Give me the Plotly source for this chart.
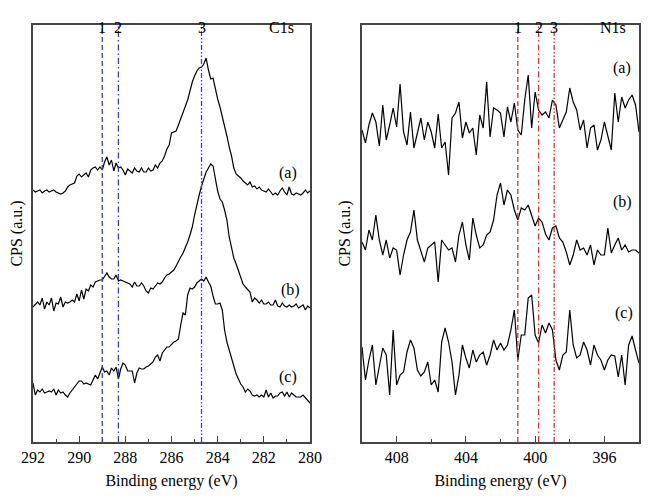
import numpy as np
import plotly.graph_objects as go

# ---------------- C1s data (binding energy 292 -> 280 eV, step 0.1) ----------------
c1s_energy = np.round(np.linspace(292.0, 280.0, 121), 2)
c1s_a = [252,250,251,252,249,251,252,250,251,252,
         250,249,248,249,251,255,257,258,259,266,
         268,265,267,269,265,272,274,275,272,275,
         272,280,285,277,282,271,279,274,275,272,
         267,273,271,269,274,271,270,274,270,270,
         274,271,272,277,274,279,281,286,293,297,
         309,310,311,317,323,329,335,342,351,360,
         366,371,374,375,378,384,372,363,364,352,
         343,335,326,315,306,295,286,274,268,266,
         264,261,259,257,260,255,256,253,255,252,
         251,250,253,250,247,249,247,251,254,250,
         247,255,248,247,249,248,247,249,252,249,251]
c1s_b = [135,138,140,137,144,133,140,137,144,131,
         139,138,145,135,140,139,140,142,140,148,
         141,152,143,153,151,157,155,160,161,162,
         162,165,169,165,163,163,167,161,162,161,
         160,159,158,155,160,156,156,159,156,151,
         149,154,153,156,159,158,160,164,167,168,
         170,172,176,181,185,189,194,200,207,215,
         227,238,247,256,264,270,274,278,276,264,
         251,243,240,232,222,205,193,184,178,171,
         163,158,155,152,150,140,144,142,139,142,
         138,138,140,137,137,142,136,135,139,136,
         135,137,135,136,138,134,136,137,132,136,134]
c1s_c = [59,47,52,50,53,49,50,51,50,53,
         47,52,49,50,47,45,49,52,54,57,
         61,61,58,59,58,57,62,67,63,69,
         75,70,71,67,74,71,75,63,73,79,
         77,71,71,71,59,69,74,73,73,75,
         76,78,80,85,87,81,89,92,95,95,
         98,100,101,103,117,129,127,147,154,153,
         155,159,161,163,161,165,160,156,146,138,
         138,139,132,112,100,92,84,75,68,63,
         58,55,50,53,51,47,46,47,45,47,
         45,52,45,49,44,46,46,49,50,46,
         50,45,49,47,45,45,45,47,44,42,39]

# ---------------- N1s data (binding energy 410 -> 394 eV, step 0.2) ----------------
n1s_energy = np.round(np.linspace(410.0, 394.0, 81), 2)
n1s_a = [312,299,317,329,320,296,337,302,317,334,
         315,358,310,297,330,294,309,324,302,320,
         310,294,328,294,300,267,324,329,340,304,
         320,309,314,287,327,314,360,305,334,332,
         329,305,335,320,339,312,307,342,367,314,
         350,332,327,330,324,342,337,314,322,330,
         354,340,332,312,322,294,314,317,292,302,
         320,307,292,349,320,345,334,342,347,337,310]
n1s_b = [200,192,212,202,227,202,187,202,184,194,
         192,167,187,202,210,232,202,192,180,194,
         197,200,160,202,197,192,194,180,207,220,
         197,182,224,207,194,197,207,210,222,247,
         259,237,252,247,232,222,234,232,237,226,
         216,224,220,208,202,214,216,204,200,190,
         177,187,202,192,194,187,197,177,192,187,
         187,214,189,197,204,192,197,190,192,192,189]
n1s_c = [95,62,82,97,57,77,94,87,47,112,
         57,67,70,90,102,94,72,66,70,80,
         57,62,50,100,114,100,80,47,67,97,
         84,74,92,80,87,90,77,87,102,92,
         99,92,97,112,132,82,107,107,144,147,
         107,99,117,109,119,112,82,72,87,90,
         132,97,84,87,100,92,77,97,87,82,
         72,82,87,86,65,87,57,97,106,92,79]

# reference lines
c1s_lines = [289.0, 288.3, 284.7]
n1s_lines = [401.0, 399.8, 398.9]
line_labels = ["1", "2", "3"]
sample_labels = ["(a)", "(b)", "(c)"]
c1s_label_pos = [(280.95, 269), (280.86, 152), (280.95, 65)]
n1s_label_pos = [(394.98, 374), (394.98, 240), (394.86, 129)]

FONT = "Liberation Serif, Times New Roman, DejaVu Serif, serif"
dashes = ["5px,3px", "6px,3px,1.5px,3px", "5px,2px,1.5px,2px,1.5px,2px"]
BLUE = "#3a3ad0"
RED = "#d8303a"
TXT = dict(size=16, family=FONT, color="black")

# page body has an 8px margin, so the figure is a bit smaller than the window
W, H, OFF = 642, 492, 8

fig = go.Figure()
for ys in (c1s_a, c1s_b, c1s_c):
    fig.add_trace(go.Scatter(x=c1s_energy, y=ys, mode="lines",
                             line=dict(color="black", width=1.2),
                             xaxis="x", yaxis="y", showlegend=False))
for ys in (n1s_a, n1s_b, n1s_c):
    fig.add_trace(go.Scatter(x=n1s_energy, y=ys, mode="lines",
                             line=dict(color="black", width=1.2),
                             xaxis="x2", yaxis="y2", showlegend=False))

top_label_y = 1 - (17 - OFF) / H
shapes = []
annotations = []
for xv, d, lab in zip(c1s_lines, dashes, line_labels):
    shapes.append(dict(type="line", xref="x", yref="y domain", x0=xv, x1=xv,
                       y0=0, y1=1, line=dict(color=BLUE, width=1.3, dash=d)))
    annotations.append(dict(x=xv, y=top_label_y, xref="x", yref="paper", text=lab,
                            showarrow=False, font=TXT))
for xv, d, lab in zip(n1s_lines, dashes, line_labels):
    shapes.append(dict(type="line", xref="x2", yref="y2 domain", x0=xv, x1=xv,
                       y0=0, y1=1, line=dict(color=RED, width=1.3, dash=d)))
    annotations.append(dict(x=xv, y=top_label_y, xref="x2", yref="paper", text=lab,
                            showarrow=False, font=TXT))

annotations.append(dict(x=281.25, y=top_label_y, xref="x", yref="paper", text="C1s",
                        showarrow=False, font=TXT))
annotations.append(dict(x=395.5, y=top_label_y, xref="x2", yref="paper", text="N1s",
                        showarrow=False, font=TXT))

for (xv, yv), lab in zip(c1s_label_pos, sample_labels):
    annotations.append(dict(x=xv, y=yv, xref="x", yref="y", text=lab, showarrow=False,
                            font=TXT))
for (xv, yv), lab in zip(n1s_label_pos, sample_labels):
    annotations.append(dict(x=xv, y=yv, xref="x2", yref="y2", text=lab, showarrow=False,
                            font=TXT))

axis_common = dict(showline=True, mirror=True, linecolor="#444444", linewidth=1.5,
                   showgrid=False, zeroline=False, ticks="inside", ticklen=6,
                   tickwidth=1.2, tickcolor="#444444", automargin=False,
                   tickfont=dict(size=16, family=FONT, color="black"))
ydom = [1 - (442 - OFF) / H, 1 - (25 - OFF) / H]
yaxis_common = dict(domain=ydom, range=[0, 417], showticklabels=False,
                    ticks="", showline=True, mirror=True, linecolor="#444444", linewidth=1.5,
                    showgrid=False, zeroline=False, automargin=False)

fig.update_layout(
    width=W, height=H,
    margin=dict(l=0, r=0, t=0, b=0, autoexpand=False),
    paper_bgcolor="white", plot_bgcolor="white",
    font=dict(family=FONT),
    shapes=shapes, annotations=annotations,
    xaxis=dict(domain=[(33 - OFF) / W, (310 - OFF) / W], range=[292, 280], tickmode="array",
               tickvals=[292, 290, 288, 286, 284, 282, 280],
               minor=dict(tickvals=[291, 289, 287, 285, 283, 281], ticklen=3,
                          ticks="inside", tickcolor="#444444"),
               title=dict(text="Binding energy (eV)", font=TXT, standoff=10),
               anchor="y", **axis_common),
    yaxis=dict(title=dict(text="CPS (a.u.)", font=TXT, standoff=6),
               anchor="x", **yaxis_common),
    xaxis2=dict(domain=[(362 - OFF) / W, (639 - OFF) / W], range=[410, 394], tickmode="array",
                tickvals=[408, 404, 400, 396],
                minor=dict(tickvals=[406, 402, 398], ticklen=3, ticks="inside",
                           tickcolor="#444444"),
                title=dict(text="Binding energy (eV)", font=TXT, standoff=10),
                anchor="y2", **axis_common),
    yaxis2=dict(title=dict(text="CPS (a.u.)", font=TXT, standoff=6),
                anchor="x2", **yaxis_common),
)

fig.write_html("out.html")
